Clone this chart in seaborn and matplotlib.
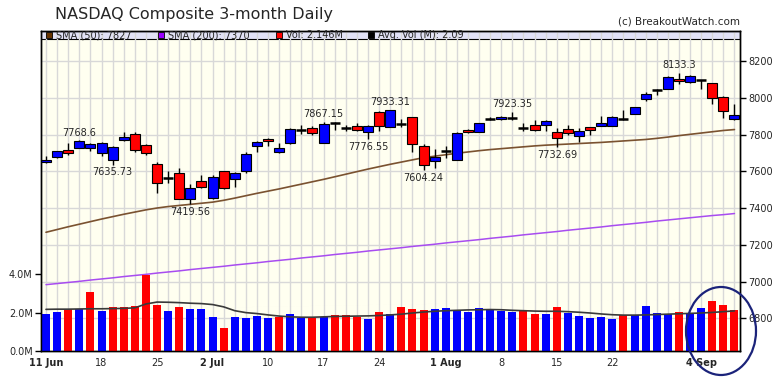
import numpy as np
import pandas as pd
import matplotlib
matplotlib.use("Agg")
import matplotlib.pyplot as plt
from matplotlib.patches import Rectangle, Ellipse
import seaborn as sns

# x axis: trading days 11 Jun .. 7 Sep
tick_pos = [0, 5, 10, 15, 20, 25, 30, 36, 41, 46, 51, 59]
tick_labels = ["11 Jun", "18", "25", "2 Jul", "10", "17", "24", "1 Aug", "8", "15", "22", "4 Sep"]
bold_labels = ["11 Jun", "2 Jul", "1 Aug", "4 Sep"]

opens = [7652, 7679, 7717, 7728, 7728, 7701, 7661, 7771, 7804, 7742,
         7637, 7563, 7592, 7448, 7547, 7457, 7601, 7556, 7601, 7737,
         7778, 7706, 7755, 7822, 7836, 7755, 7861, 7837, 7845, 7814,
         7921, 7842, 7858, 7896, 7737, 7655, 7710, 7664, 7827, 7814,
         7887, 7885, 7892, 7837, 7851, 7851, 7813, 7831, 7791, 7842,
         7849, 7849, 7888, 7914, 7993, 8042, 8048, 8102, 8085, 8095,
         8080, 8004, 7885]
highs = [7682, 7713, 7755, 7768.6, 7755, 7758, 7737, 7813, 7811, 7746,
         7652, 7601, 7619, 7533, 7580, 7578, 7601, 7596, 7704, 7764,
         7782, 7755, 7836, 7851, 7845, 7867.15, 7867, 7850, 7863, 7854,
         7928, 7933.31, 7885, 7896, 7746, 7719, 7737, 7813, 7831, 7863,
         7896, 7903, 7923.35, 7863, 7881, 7881, 7836, 7854, 7836, 7842,
         7899, 7899, 7935, 7950, 8029, 8048, 8116, 8133.3, 8125, 8098,
         8080, 8008, 7968]
lows = [7645, 7673, 7688, 7724, 7713, 7683, 7635.73, 7764, 7704, 7686,
        7484, 7538, 7448, 7419.56, 7511, 7451, 7502, 7516, 7592, 7706,
        7737, 7701, 7749, 7805, 7796, 7755, 7827, 7818, 7818, 7776.55,
        7818, 7842, 7842, 7706, 7604.24, 7619, 7674, 7664, 7809, 7814,
        7878, 7878, 7881, 7818, 7818, 7818, 7732.69, 7795, 7760, 7795,
        7845, 7849, 7881, 7910, 7981, 8017, 8048, 8073, 8080, 8048,
        7968, 7890, 7878]
closes = [7664, 7710, 7701, 7767, 7749, 7755, 7733, 7787, 7717, 7701,
          7538, 7566, 7451, 7511, 7516, 7571, 7507, 7592, 7695, 7760,
          7767, 7724, 7831, 7823, 7809, 7858, 7862, 7836, 7827, 7845,
          7849, 7932, 7857, 7746, 7632, 7679, 7709, 7809, 7814, 7863,
          7886, 7894, 7891, 7836, 7823, 7876, 7782, 7809, 7820, 7827,
          7863, 7896, 7887, 7950, 8020, 8041, 8113, 8091, 8116, 8094,
          7999, 7930, 7908]

sma50 = [7268, 7283, 7298, 7312, 7326, 7340, 7353, 7366, 7378, 7390,
         7400, 7408, 7414, 7420, 7426, 7432, 7442, 7454, 7467, 7480,
         7492, 7504, 7517, 7530, 7543, 7556, 7570, 7584, 7598, 7612,
         7625, 7638, 7650, 7662, 7674, 7682, 7690, 7698, 7705, 7712,
         7718, 7723, 7728, 7733, 7738, 7742, 7745, 7748, 7751, 7754,
         7757, 7761, 7765, 7769, 7773, 7779, 7786, 7794, 7801, 7808,
         7815, 7822, 7827]
sma200 = [6983, 6989, 6995, 7001, 7008, 7014, 7020, 7027, 7033, 7039,
          7046, 7052, 7058, 7065, 7071, 7077, 7083, 7090, 7096, 7102,
          7109, 7115, 7121, 7128, 7134, 7140, 7147, 7153, 7159, 7166,
          7172, 7178, 7184, 7191, 7197, 7203, 7210, 7216, 7222, 7228,
          7235, 7241, 7247, 7254, 7260, 7266, 7272, 7279, 7285, 7291,
          7297, 7304, 7310, 7316, 7322, 7329, 7335, 7341, 7347, 7353,
          7359, 7364, 7370]

# volume in millions, colour by close-to-close direction
volume = [1.94, 2.05, 2.20, 2.20, 3.09, 2.10, 2.29, 2.29, 2.34, 3.96,
          2.41, 2.10, 2.29, 2.20, 2.20, 1.79, 1.22, 1.79, 1.74, 1.84,
          1.74, 1.79, 1.94, 1.74, 1.74, 1.79, 1.89, 1.89, 1.79, 1.68,
          2.05, 1.94, 2.29, 2.19, 2.14, 2.19, 2.24, 2.10, 2.03, 2.24,
          2.19, 2.10, 2.03, 2.10, 1.94, 1.94, 2.29, 1.98, 1.82, 1.72,
          1.77, 1.67, 1.89, 1.89, 2.34, 1.98, 1.94, 2.03, 1.94, 2.24,
          2.60, 2.41, 2.146]
vol_dir = list("uudududddd"
               "duduuuduuu"
               "uduududddu"
               "duddduuuuu"
               "uuudduduuu"
               "uuduuuuduu"
               "ddd")
vol_dir = ["up" if d == "u" else "down" for d in vol_dir]
avg_vol = [2.17, 2.18, 2.18, 2.19, 2.20, 2.20, 2.21, 2.22, 2.25, 2.45,
           2.55, 2.54, 2.52, 2.49, 2.47, 2.42, 2.30, 2.10, 2.00, 1.95,
           1.88, 1.82, 1.78, 1.76, 1.76, 1.78, 1.80, 1.81, 1.82, 1.83,
           1.85, 1.88, 1.92, 1.98, 2.03, 2.07, 2.10, 2.12, 2.14, 2.15,
           2.16, 2.15, 2.12, 2.10, 2.08, 2.07, 2.07, 2.05, 2.02, 1.98,
           1.93, 1.89, 1.87, 1.87, 1.88, 1.90, 1.92, 1.94, 1.96, 1.98,
           2.01, 2.05, 2.09]

# high/low call-outs
note_idx = [3, 6, 13, 25, 29, 31, 34, 42, 46, 57]
note_text = ["7768.6", "7635.73", "7419.56", "7867.15", "7776.55",
             "7933.31", "7604.24", "7923.35", "7732.69", "8133.3"]
note_above = [True, False, False, True, False, True, False, True, False, True]

price_ticks = [6800, 7000, 7200, 7400, 7600, 7800, 8000, 8200]
vol_ticks = [0, 2, 4]
vol_tick_labels = ["0.0M", "2.0M", "4.0M"]

legend_items = [("#663300", "SMA (50): 7827"), ("#9900FF", "SMA (200): 7370"),
                ("#FF0000", "Vol: 2.146M"), ("#000000", "Avg. Vol (M): 2.09")]

sns.set_style("white")
plt.rcParams["font.family"] = ["DejaVu Sans"]

idx = np.arange(len(closes))
o = np.array(opens, dtype=float)
c = np.array(closes, dtype=float)

W, H = 780, 377
fig = plt.figure(figsize=(7.8, 3.77), dpi=100)
ax = fig.add_axes([41 / W, 1 - 351 / H, (740 - 41) / W, (351 - 30.5) / H])
ax.set_facecolor("#FFFFF0")
ax.set_axisbelow(True)

# legend band at the top of the plot
ax.add_patch(Rectangle((0, 1 - 8.5 / 320.5), 1, 8.5 / 320.5, transform=ax.transAxes,
                       facecolor="#E2E2F6", edgecolor="black", lw=0.8, zorder=0.2))

# price panel
sns.lineplot(x=idx, y=sma50, ax=ax, color="#7A5230", lw=1.2)
sns.lineplot(x=idx, y=sma200, ax=ax, color="#A84CF0", lw=1.1)

ax.vlines(idx, lows, highs, color="black", lw=1, zorder=3)
flat = np.abs(c - o) < 4
body = ~flat
cols = np.where(c >= o, "#0000FF", "#FF0000")
ax.bar(idx[body], np.abs(c - o)[body], bottom=np.minimum(o, c)[body], width=0.9,
       color=cols[body], edgecolor="black", linewidth=0.8, zorder=4)
ax.hlines(c[flat], idx[flat] - 0.45, idx[flat] + 0.45, color="black", lw=1.8, zorder=4)

for i, t, up in zip(note_idx, note_text, note_above):
    y = highs[i] if up else lows[i]
    ax.annotate(t, (i, y), xytext=(0, 2 if up else -2), textcoords="offset points",
                ha="center", va="bottom" if up else "top", fontsize=7, zorder=6)

ax.set_ylim(6622, 8366)
ax.set_yticks(price_ticks)
ax.set_yticklabels([str(p) for p in price_ticks])
ax.grid(True, which="major", axis="y", color="#D8D8D8", lw=1)

# volume panel (twinx moves the host ticks, so sides are fixed afterwards)
vax = ax.twinx()
vol_df = pd.DataFrame({"idx": idx, "vol": volume, "dir": vol_dir})
sns.barplot(data=vol_df, x="idx", y="vol", hue="dir", palette={"up": "#0000FF", "down": "#FF0000"},
            native_scale=True, width=0.72, dodge=False, legend=False, saturation=1,
            edgecolor="none", ax=vax)
sns.lineplot(x=idx, y=avg_vol, ax=vax, color="#3A3A3A", lw=1.2)
vax.set_ylim(0, 16.7)
vax.set_yticks(vol_ticks)
vax.set_yticklabels(vol_tick_labels)
vax.set_ylabel("")
vax.set_xlabel("")

ax.yaxis.tick_right()
ax.yaxis.set_label_position("right")
vax.yaxis.tick_left()
vax.yaxis.set_label_position("left")

ax.set_xlim(-0.45, 62.5)
ax.set_xticks(tick_pos)
ax.set_xticklabels(tick_labels)
ax.set_xticks(idx, minor=True)
ax.grid(True, which="both", axis="x", color="#D8D8D8", lw=1)
for lbl in ax.get_xticklabels():
    if lbl.get_text() in bold_labels:
        lbl.set_fontweight("bold")
ax.tick_params(axis="x", which="minor", length=0)
ax.tick_params(axis="x", which="major", length=4, width=1, labelsize=7, pad=1, color="black")
ax.tick_params(axis="y", length=4, width=1, labelsize=7, pad=2, right=True, left=False,
               labelright=True, labelleft=False, color="black")
vax.tick_params(axis="y", length=4, width=1, labelsize=7, pad=2, left=True, right=False,
                labelleft=True, labelright=False, color="black")
ax.set_xlabel("")
for a in (ax, vax):
    for s in a.spines.values():
        s.set_color("black")
        s.set_linewidth(1)

# legend entries inside the band
lx = [46, 158, 276, 368]
for x0, (col, txt) in zip(lx, legend_items):
    fig.add_artist(Rectangle((x0 / W, 1 - 38 / H), 6 / W, 6 / H, transform=fig.transFigure,
                             facecolor=col, edgecolor="black", lw=0.6))
    fig.text((x0 + 10) / W, 1 - 35 / H, txt, fontsize=7, va="center", ha="left")

fig.text(55 / W, 1 - 15 / H, "NASDAQ Composite 3-month Daily", fontsize=11.5, va="center", ha="left")
fig.text(740 / W, 1 - 22 / H, "(c) BreakoutWatch.com", fontsize=7.5, va="center", ha="right")

fig.add_artist(Ellipse((721 / W, 1 - 331 / H), 70 / W, 88 / H, transform=fig.transFigure,
                       fill=False, edgecolor="#1B237A", lw=1.6))

fig.savefig("out.png", dpi=100)
